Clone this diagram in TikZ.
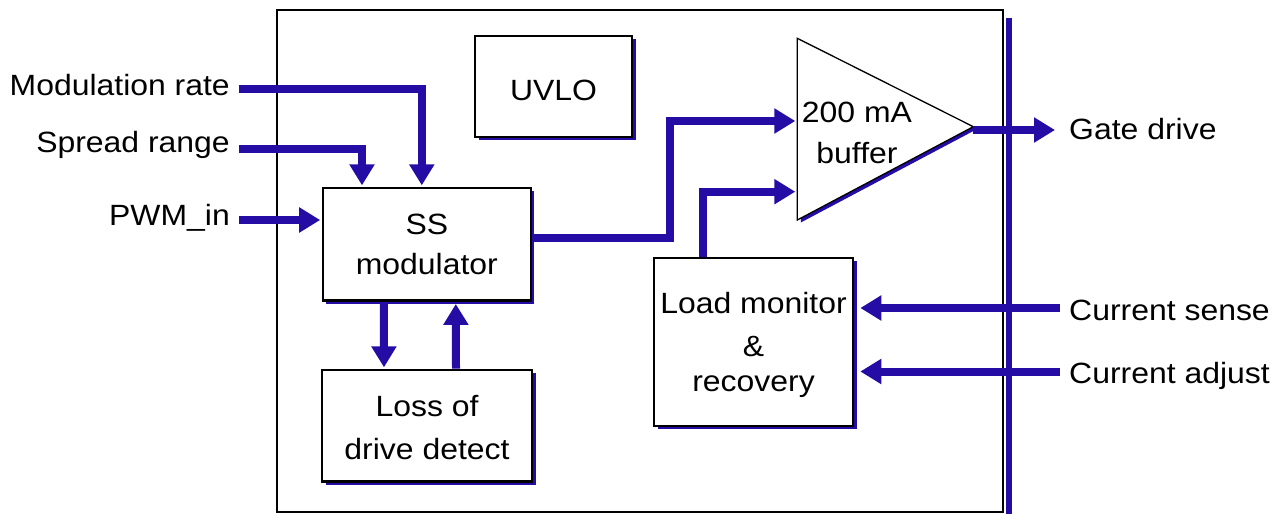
\documentclass[tikz,border=0pt]{standalone}
\usepackage{fontspec}
\setmainfont{Liberation Sans}[FakeStretch=1.09]
\usetikzlibrary{arrows.meta,shadows}
\definecolor{wireblue}{RGB}{36,12,164}
\begin{document}
\begin{tikzpicture}[x=1pt,y=-1pt,
  txt/.style={font=\fontsize{29.3}{40}\selectfont},
  blk/.style={draw=black,line width=2.6pt,fill=white,txt,align=center,inner sep=0pt,
    drop shadow={shadow xshift=3.5pt,shadow yshift=-3pt,fill=wireblue,opacity=1}},
  wire/.style={draw=wireblue,line width=8pt},
  arr/.style={wire,-{Triangle[width=24pt,length=21pt]}},
  inlbl/.style={txt,inner xsep=9pt,inner ysep=0pt,anchor=base east},
  outlbl/.style={txt,inner xsep=9pt,inner ysep=0pt,anchor=base west}]
\useasboundingbox (0,0) rectangle (1281,514);
% chip outline with its shadow strip
\fill[wireblue] (1005.5,18) rectangle (1011.7,514);
\node[draw,line width=2.6pt,minimum width=726pt,minimum height=502pt,inner sep=0pt] (chip) at (640,261) {};
% blocks
\node[blk,minimum width=157pt,minimum height=101pt] (uvlo) at (553.5,86.5) {\rule{0pt}{27.4pt}UVLO};
\node[blk,minimum width=208pt,minimum height=112.7pt] (ss) at (426.8,244.3) {SS\\modulator};
\node[blk,minimum width=210pt,minimum height=111.7pt,font=\fontsize{29.3}{43}\selectfont] (loss) at (427,425.8) {\rule{0pt}{23.8pt}Loss of\\drive detect};
\node[blk,minimum width=199pt,minimum height=168pt,font=\fontsize{29.3}{35}\selectfont] (load) at (753.5,342) {\rule{0pt}{27pt}Load monitor\\[8.7pt]\&\\recovery};
% buffer triangle
\coordinate (ta) at (797.3,38.3);
\coordinate (tb) at (797.3,220);
\coordinate (apex) at (973.3,126.7);
\draw[line width=1.3pt,fill=white,drop shadow={shadow xshift=3.5pt,shadow yshift=-2.5pt,fill=wireblue,opacity=1}] (ta) -- (apex) -- (tb) -- cycle;
\node[txt,font=\fontsize{29.3}{41}\selectfont,align=center,inner sep=0pt] (buf) at (857,132.7) {200 mA\\buffer};
\coordinate (in1) at (797.3,121);
\coordinate (in2) at (797.3,191.7);
% external labels
\node[inlbl] (mod) at (239,95) {Modulation rate};
\node[inlbl] (spr) at (239,152) {Spread range};
\node[inlbl] (pwm) at (239,225) {PWM\_in};
\node[outlbl] (gate) at (1060,139) {Gate drive};
\node[outlbl] (sense) at (1060,320) {Current sense};
\node[outlbl] (adj) at (1060,383) {Current adjust};
% connectors
\draw[arr,shorten >=1.3pt] ([yshift=6pt]mod.base east) -| ([xshift=-5pt]ss.north);
\draw[arr,shorten >=1.3pt] ([yshift=3pt]spr.base east) -| ([xshift=-64.8pt]ss.north);
\coordinate (pin) at ([yshift=5pt]pwm.base east);
\draw[arr,shorten >=1.3pt] (pin) -- (pin -| ss.west);
\coordinate (sso) at ([yshift=6pt]ss.east);
\coordinate (j1) at (670,121);
\draw[arr,shorten >=2pt] (sso) -- (sso -| j1) -- (j1) -- (in1);
\coordinate (lo) at ([xshift=-50.5pt]load.north);
\draw[arr,shorten >=2pt] (lo) |- (in2);
\coordinate (gd) at ([yshift=9pt]gate.base west);
\draw[arr,shorten >=5pt] (apex |- gd) -- (gd);
\coordinate (cs) at ([yshift=12pt]sense.base west);
\draw[arr,shorten >=6pt] (cs) -- (cs -| load.east);
\coordinate (ca) at ([yshift=11.5pt]adj.base west);
\draw[arr,shorten >=6pt] (ca) -- (ca -| load.east);
\draw[arr,shorten >=1.3pt] ([xshift=-43pt]ss.south) -- ([xshift=-43pt]loss.north);
\draw[arr,shorten >=2pt] ([xshift=29pt]loss.north) -- ([xshift=29pt]ss.south);
\end{tikzpicture}
\end{document}
